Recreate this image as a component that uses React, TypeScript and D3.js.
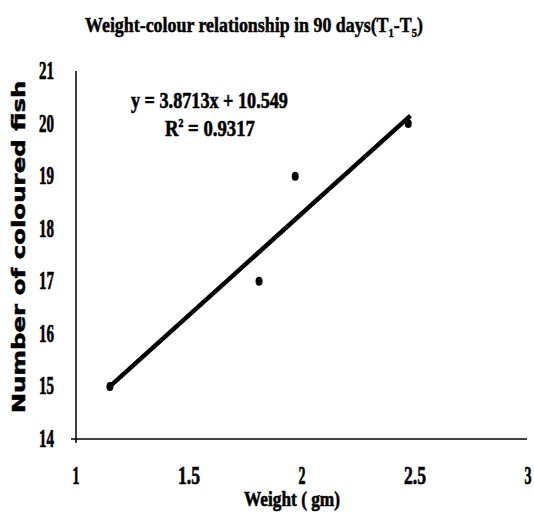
import React, { useEffect, useRef } from "react";
import * as d3 from "d3";

const weights = [1.15, 1.81, 1.97, 2.47];
const colouredFish = [15, 17, 19, 20];
const xTicks = [1, 1.5, 2, 2.5, 3];
const yTicks = [14, 15, 16, 17, 18, 19, 20, 21];
const slope = 3.8713;
const intercept = 10.549;
const titleText = "Weight-colour relationship in 90 days";
const equationText = "y = 3.8713x + 10.549";
const rSquaredText = "0.9317";
const xTitle = "Weight ( gm)";
const yTitle = "Number of coloured fish";

export default function App() {
  const ref = useRef<SVGSVGElement>(null);
  useEffect(() => {
    const svg = d3.select(ref.current);
    svg.selectAll("*").remove();
    const x = d3.scaleLinear().domain([1, 3]).range([76, 528]);
    const y = d3.scaleLinear().domain([14, 21]).range([439, 71]);
    const serif = "'Liberation Serif', 'Times New Roman', serif";
    const sans = "'DejaVu Sans', sans-serif";

    const fit = (sel: any, tx: number, ty: number, w: number, rot = 0) => {
      const node = sel.node() as SVGTextElement;
      const len = node.getComputedTextLength();
      const s = w / len;
      sel.attr("transform", `translate(${tx},${ty}) rotate(${rot}) scale(${s},1)`);
    };
    const heavy = (sel: any, sw = 0.7) => sel.attr("stroke", "#000").attr("stroke-width", sw).attr("fill", "#000");

    // axes lines
    svg.append("line").attr("x1", x(1)).attr("x2", x(3) - 1).attr("y1", y(14)).attr("y2", y(14))
      .attr("stroke", "#000").attr("stroke-width", 1.5);
    svg.append("line").attr("x1", x(1)).attr("x2", x(1)).attr("y1", y(14) + 4).attr("y2", y(21))
      .attr("stroke", "#000").attr("stroke-width", 1.5);
    svg.append("line").attr("x1", x(1) - 5).attr("x2", x(1)).attr("y1", y(14)).attr("y2", y(14))
      .attr("stroke", "#000").attr("stroke-width", 1.5);

    // y tick labels
    yTicks.forEach((t) => {
      const tx = svg.append("text").text(String(t)).attr("font-family", serif).attr("font-weight", "bold")
        .attr("font-size", 25).attr("text-anchor", "end");
      heavy(tx);
      fit(tx, 54, y(t) + 8, 15);
    });
    // x tick labels
    xTicks.forEach((t) => {
      const tx = svg.append("text").text(String(t)).attr("font-family", serif).attr("font-weight", "bold")
        .attr("font-size", 25).attr("text-anchor", "middle");
      heavy(tx);
      const w = String(t).length > 1 ? 22 : 7;
      fit(tx, x(t), 484, w);
    });

    // trend line
    const ext = d3.extent(weights) as [number, number];
    const line = d3.line<number>().x((d) => x(d)).y((d) => y(slope * d + intercept));
    svg.append("path").attr("d", line([ext[0], ext[1] + 0.01]) as string).attr("fill", "none")
      .attr("stroke", "#000").attr("stroke-width", 4.5).attr("stroke-linecap", "butt");

    // points
    svg.selectAll("ellipse.pt").data(weights).enter().append("ellipse")
      .attr("cx", (d) => x(d)).attr("cy", (_d, i) => y(colouredFish[i]))
      .attr("rx", 3.5).attr("ry", 4.5).attr("fill", "#000");

    // title
    const title = svg.append("text").attr("font-family", serif).attr("font-weight", "bold")
      .attr("font-size", 22).attr("text-anchor", "middle");
    heavy(title, 0.5);
    title.append("tspan").text(titleText + "(T");
    title.append("tspan").text("1").attr("font-size", 13).attr("dy", 5);
    title.append("tspan").text("-T").attr("dy", -5);
    title.append("tspan").text("5").attr("font-size", 13).attr("dy", 5);
    title.append("tspan").text(")").attr("dy", -5);
    fit(title, 254, 32, 338);

    // equation
    const eq = svg.append("text").text(equationText).attr("font-family", serif).attr("font-weight", "bold")
      .attr("font-size", 23).attr("text-anchor", "start");
    heavy(eq, 0.6);
    fit(eq, 131, 108, 157);
    const r2 = svg.append("text").attr("font-family", serif).attr("font-weight", "bold")
      .attr("font-size", 23).attr("text-anchor", "start");
    heavy(r2, 0.6);
    r2.append("tspan").text("R");
    r2.append("tspan").text("2").attr("font-size", 12).attr("dy", -9);
    r2.append("tspan").text(" = " + rSquaredText).attr("dy", 9);
    fit(r2, 165, 136, 90);

    // axis titles
    const xt = svg.append("text").text(xTitle).attr("font-family", serif).attr("font-weight", "bold")
      .attr("font-size", 22).attr("text-anchor", "middle");
    heavy(xt, 0.6);
    fit(xt, 292, 506, 96);
    const yt = svg.append("text").text(yTitle).attr("font-family", sans).attr("font-weight", "bold")
      .attr("font-size", 18).attr("text-anchor", "middle");
    heavy(yt, 0.5);
    fit(yt, 25, 247, 333, -90);
  }, []);

  return (
    <svg ref={ref} width={534} height={514} style={{ position: "absolute", left: 0, top: 0, background: "#fff" }} />
  );
}
